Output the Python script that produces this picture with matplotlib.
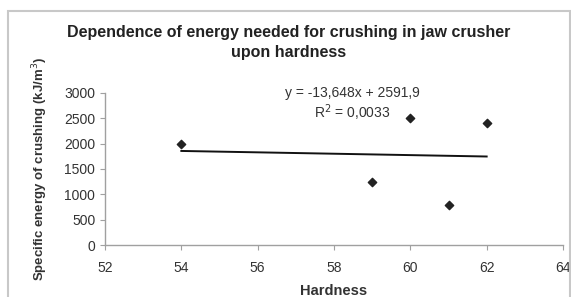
import matplotlib.pyplot as plt
from matplotlib.patches import Rectangle
import numpy as np

plt.rcParams['font.family'] = ['Liberation Sans', 'DejaVu Sans']

# data
hardness = [54, 59, 60, 61, 62]
energy = [2000, 1240, 2500, 790, 2400]

# trendline as printed on the chart
slope = -13.648
intercept = 2591.9
r2_text = "R$^2$ = 0,0033"
eq_text = "y = -13,648x + 2591,9"

x_ticks = [52, 54, 56, 58, 60, 62, 64]
y_ticks = [0, 500, 1000, 1500, 2000, 2500, 3000]

fig = plt.figure(figsize=(5.71, 2.97), dpi=100)
ax = fig.add_axes([105/571, 1 - 245.3/297, 458/571, 152.6/297])

# outer frame of the chart area
fig.patches.append(Rectangle((8/571, -0.2), 562/571, 1.2 - 11/297,
                             transform=fig.transFigure, fill=False,
                             ec='#c8c8c8', lw=1.5))

ax.scatter(hardness, energy, marker='D', s=18, color='#222222', zorder=3)

tx = np.array([min(hardness), max(hardness)])
ax.plot(tx, slope * tx + intercept, color='#111111', lw=1.4)

ax.set_xlim(52, 64)
ax.set_ylim(0, 3000)
ax.set_xticks(x_ticks)
ax.set_yticks(y_ticks)

for s in ['top', 'right']:
    ax.spines[s].set_visible(False)
for s in ['left', 'bottom']:
    ax.spines[s].set_color('#a0a0a0')
    ax.spines[s].set_linewidth(1)

ax.tick_params(axis='both', colors='#a0a0a0', labelcolor='#333333', labelsize=10, length=3.5)
ax.tick_params(axis='x', pad=8)
ax.tick_params(axis='y', pad=3.5)

ax.text(58.47, 2994, eq_text, ha='center', va='center', fontsize=10, color='#333333', clip_on=False)
ax.text(58.47, 2603, r2_text, ha='center', va='center', fontsize=10, color='#333333', clip_on=False)

ax.set_xlabel("Hardness", fontsize=10.5, fontweight='bold', color='#333333', labelpad=6)
fig.text(40/571, 1 - 169/297, "Specific energy of crushing (kJ/m$^3$)", rotation=90,
         ha='center', va='center', fontsize=9.5, fontweight='bold', color='#333333')

fig.text(289/571, 1 - 42.5/297,
         "Dependence of energy needed for crushing in jaw crusher\nupon hardness",
         ha='center', va='center', fontsize=11.5, fontweight='bold', color='#222222',
         linespacing=1.35)

fig.savefig("out.png", dpi=100)
